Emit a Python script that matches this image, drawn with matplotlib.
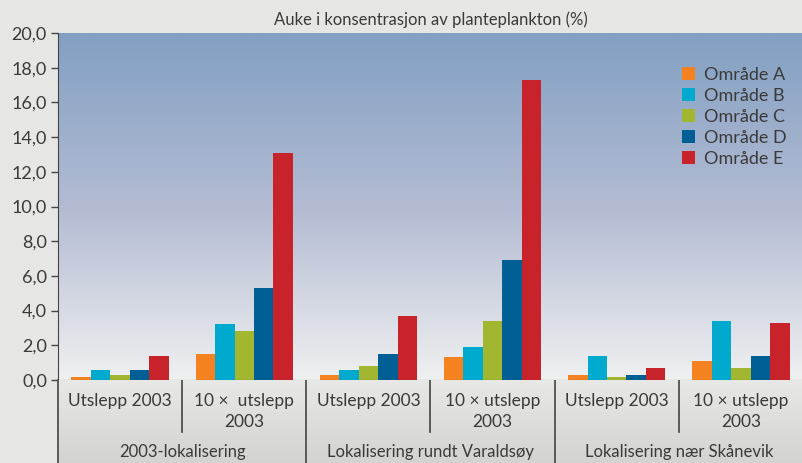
import numpy as np
import matplotlib.pyplot as plt
from matplotlib.colors import LinearSegmentedColormap
from matplotlib.ticker import FuncFormatter, MultipleLocator

# ---------------------------------------------------------
# Data
# ---------------------------------------------------------
groups = ["2003-lokalisering", "Lokalisering rundt Varaldsøy", "Lokalisering nær Skånevik"]
scenarios = ["Utslepp 2003", "10 ×  utslepp\n2003", "Utslepp 2003", "10 × utslepp\n2003",
             "Utslepp 2003", "10 × utslepp\n2003"]
series = ["Område A", "Område B", "Område C", "Område D", "Område E"]
omr_a = [0.2, 1.5, 0.3, 1.35, 0.3, 1.1]
omr_b = [0.55, 3.2, 0.55, 1.9, 1.4, 3.4]
omr_c = [0.3, 2.8, 0.8, 3.4, 0.2, 0.7]
omr_d = [0.6, 5.3, 1.5, 6.9, 0.3, 1.4]
omr_e = [1.4, 13.1, 3.7, 17.3, 0.7, 3.3]
values = [omr_a, omr_b, omr_c, omr_d, omr_e]
colors = ["#f58220", "#00aacf", "#a2b62f", "#006096", "#c8232b"]

TEXT = "#3a3a3a"
plt.rcParams['font.family'] = ['Lato', 'DejaVu Sans']

W, H = 803, 463
fig = plt.figure(figsize=(W / 100, H / 100), dpi=100, facecolor="#e6e6e4")

# main plot area (pixel coordinates from the reference)
x0, x1, ytop, ybase = 58, 803, 33, 380
ax = fig.add_axes([x0 / W, (H - ybase) / H, (x1 - x0) / W, (ybase - ytop) / H])

# gradient background
cmap = LinearSegmentedColormap.from_list(
    "bg", [(0.0, "#eff0f0"), (0.5, "#b3bbd3"), (1.0, "#82a0c2")])
grad = np.linspace(0, 1, 256).reshape(-1, 1)
ax.imshow(grad, cmap=cmap, aspect="auto", extent=[0, 6, 0, 20], origin="lower", zorder=0)

n = len(scenarios)
bw = 0.157
x = np.arange(n) + 0.5
for k, (name, vals, c) in enumerate(zip(series, values, colors)):
    ax.bar(x + (k - 2) * bw, vals, width=bw, color=c, label=name, zorder=2, linewidth=0)

ax.set_xlim(0, 6)
ax.set_ylim(0, 20)
ax.set_xticks([])
ax.yaxis.set_major_locator(MultipleLocator(2))
ax.yaxis.set_major_formatter(FuncFormatter(lambda v, p: f"{v:.1f}".replace(".", ",")))
ax.tick_params(axis="y", length=5, width=1, color="#444444", labelsize=13, labelcolor=TEXT, pad=3)
for s in ["top", "right"]:
    ax.spines[s].set_visible(False)
ax.spines["left"].set_color("#444444")
ax.spines["bottom"].set_color("#444444")

ax.set_title("Auke i konsentrasjon av planteplankton (%)", fontsize=12, color=TEXT, pad=6)

leg = ax.legend(loc="upper right", bbox_to_anchor=(1.0, 0.95), frameon=False, fontsize=13,
                handlelength=0.7, handleheight=0.7, handletextpad=0.5, labelspacing=0.28,
                labelcolor=TEXT)

# category label area below the plot
lab = fig.add_axes([x0 / W, 0, (x1 - x0) / W, (H - ybase) / H])
lab.set_xlim(0, 6)
lab.set_ylim(0, H - ybase)
lab_cmap = LinearSegmentedColormap.from_list("lab", ["#d3d3d1", "#e8e8e6"])
lab.imshow(grad, cmap=lab_cmap, aspect="auto", extent=[0, 6, 0, H - ybase], origin="lower", zorder=0)
lab.axis("off")
lab.plot([0, 0], [0, H - ybase], color="#444444", lw=1.2, clip_on=False)
for b in [1, 3, 5]:
    lab.plot([b, b], [H - ybase - 52, H - ybase], color="#444444", lw=1.2)
for b in [2, 4]:
    lab.plot([b, b], [0, H - ybase], color="#444444", lw=1.2)
for i, s in enumerate(scenarios):
    lab.text(i + 0.5, H - ybase - 13, s, ha="center", va="top", fontsize=12.5,
             color=TEXT, linespacing=1.4)
for g, name in enumerate(groups):
    lab.text(2 * g + 1, 11, name, ha="center", va="center", fontsize=12, color=TEXT)

fig.savefig("out.png", dpi=100, facecolor=fig.get_facecolor())
